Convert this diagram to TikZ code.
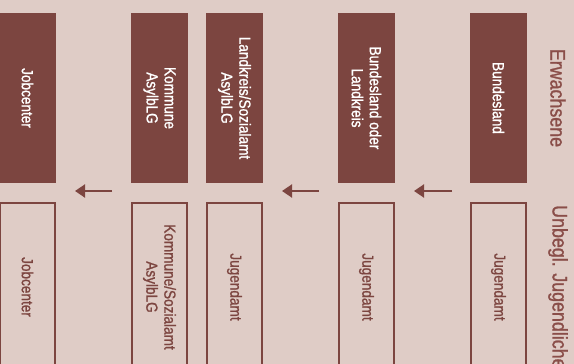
\documentclass[tikz,border=0pt]{standalone}
\usepackage{fontspec}
\setmainfont[FakeStretch=0.85,FakeBold=1.2]{Liberation Sans}
\usetikzlibrary{arrows.meta}
\definecolor{bg}{HTML}{DFCCC6}
\definecolor{maroon}{HTML}{7C4540}
\definecolor{labelc}{HTML}{8A4E49}
\tikzset{
  darkbox/.style={rotate=-90, fill=maroon, text=white, minimum width=170pt, minimum height=57pt,
    inner sep=0pt, align=center, font=\fontsize{16pt}{18pt}\selectfont},
  linebox/.style={rotate=-90, draw=maroon, line width=2pt, text=maroon, minimum width=168pt, minimum height=55pt,
    inner sep=0pt, align=center, font=\fontsize{16pt}{18pt}\selectfont},
  rowlabel/.style={rotate=-90, text=labelc, inner sep=0pt, font=\fontsize{21pt}{24pt}\selectfont},
  flow/.style={draw=maroon, line width=2pt, -{Triangle[length=10pt,width=13pt]}}
}
\begin{document}
\begin{tikzpicture}[x=1pt,y=-1pt]
\useasboundingbox (0,0) rectangle (574,364);
\fill[bg] (0,0) rectangle (574,364);
\clip (0,0) rectangle (574,364);
% top row
\node[darkbox] (a1) at (27.5,98) {Jobcenter};
\node[darkbox] (a2) at (159.5,98) {Kommune\\AsylbLG};
\node[darkbox] (a3) at (234.5,98) {Landkreis/Sozialamt\\AsylbLG};
\node[darkbox] (a4) at (366.5,98) {Bundesland oder\\Landkreis};
\node[darkbox] (a5) at (498.5,98) {Bundesland};
% bottom row
\node[linebox] (b1) at (27.5,287) {Jobcenter};
\node[linebox] (b2) at (159.5,287) {Kommune/Sozialamt\\AsylbLG};
\node[linebox] (b3) at (234.5,287) {Jugendamt};
\node[linebox] (b4) at (366.5,287) {Jugendamt};
\node[linebox] (b5) at (498.5,287) {Jugendamt};
% row labels
\node[rowlabel] (l1) at (558,98) {Erwachsene};
\node[rowlabel, anchor=west] (l2) at (558,205) {Unbegl. Jugendliche};
% arrows
\coordinate (s1) at (112,191); \coordinate (t1) at (75,191);
\coordinate (s2) at (319,191); \coordinate (t2) at (282,191);
\coordinate (s3) at (452,191); \coordinate (t3) at (414,191);
\draw[flow] (s1) -- (t1);
\draw[flow] (s2) -- (t2);
\draw[flow] (s3) -- (t3);
\end{tikzpicture}
\end{document}
